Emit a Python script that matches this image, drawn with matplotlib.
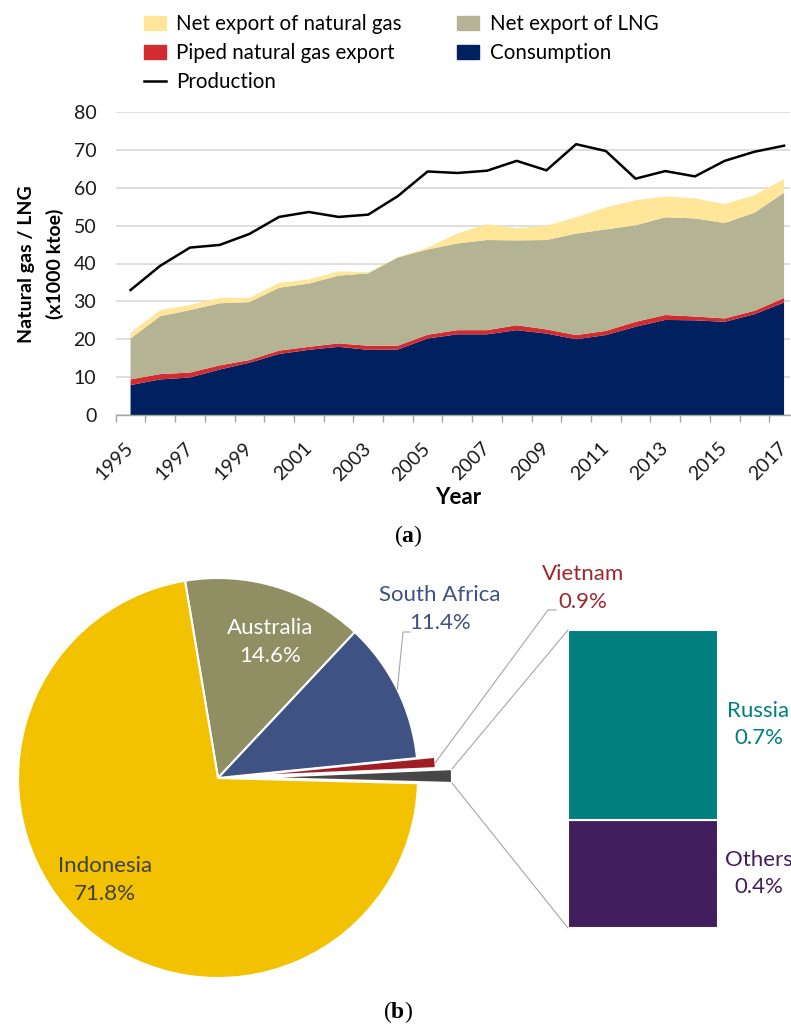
import matplotlib
matplotlib.use("Agg")
import matplotlib.pyplot as plt
import numpy as np
from matplotlib.patches import Patch, ConnectionPatch
from matplotlib.lines import Line2D

plt.rcParams['font.family'] = ['Lato', 'DejaVu Sans']
plt.rcParams['mathtext.fontset'] = 'custom'
plt.rcParams['mathtext.bf'] = 'Liberation Serif:bold'
plt.rcParams['mathtext.rm'] = 'Liberation Serif'

# ---------------- data (a) ----------------
years = list(range(1995, 2018))
consumption = [7.9, 9.4, 9.9, 12.0, 13.8, 16.1, 17.2, 18.0, 17.2, 17.3, 20.2, 21.3,
               21.3, 22.4, 21.5, 20.0, 21.1, 23.3, 25.1, 25.0, 24.6, 26.6, 29.7]
piped_export = [1.5, 1.4, 1.3, 1.1, 0.7, 0.9, 0.8, 0.9, 1.1, 1.0, 1.0, 1.1,
                1.1, 1.3, 1.1, 1.1, 1.1, 1.3, 1.3, 1.0, 0.9, 0.9, 1.2]
lng_export = [10.8, 15.3, 16.5, 16.4, 15.3, 16.6, 16.7, 17.9, 19.1, 23.3, 22.5, 22.9,
              23.8, 22.4, 23.6, 26.8, 26.8, 25.5, 25.8, 25.9, 25.2, 25.9, 27.8]
gas_export = [1.5, 1.6, 1.3, 1.4, 1.1, 1.3, 1.1, 1.1, 0.3, 0.1, 0.5, 2.6,
              4.2, 3.2, 3.8, 4.3, 5.8, 6.6, 5.5, 5.3, 5.0, 4.6, 3.6]
production = [33.0, 39.4, 44.2, 44.9, 47.8, 52.3, 53.6, 52.3, 52.9, 57.8, 64.3, 63.9,
              64.5, 67.1, 64.6, 71.5, 69.7, 62.4, 64.4, 63.0, 67.1, 69.5, 71.1]
y_ticks = [0, 10, 20, 30, 40, 50, 60, 70, 80]

# ---------------- data (b) ----------------
pie_labels = ['Australia', 'South Africa', 'Vietnam', 'Other', 'Indonesia']
pie_values = [14.6, 11.4, 0.9, 1.1, 71.8]
bar_labels = ['Others', 'Russia']
bar_values = [0.4, 0.7]

C_NAVY = '#002060'
C_RED = '#D22B30'
C_KHAKI = '#B4B494'
C_YELLOW = '#FFE699'

W, H = 791, 1025
fig = plt.figure(figsize=(W / 100, H / 100), dpi=100)

def fx(px):
    return px / W

def fy(py):
    return 1 - py / H

# ---------------- panel (a) ----------------
ax1 = fig.add_axes([fx(115.7), fy(415), fx(790) - fx(115.7), fy(112) - fy(415)])
x = np.arange(len(years))
ax1.stackplot(x, consumption, piped_export, lng_export, gas_export,
              colors=[C_NAVY, C_RED, C_KHAKI, C_YELLOW], linewidth=0)
ax1.plot(x, production, color='black', lw=1.8)
ax1.set_ylim(0, 80)
ax1.set_xlim(-0.5, 22.2)
ax1.set_yticks(y_ticks)
ax1.yaxis.grid(True, color='#D9D9D9', lw=1.2)
ax1.set_axisbelow(True)
for s in ['left', 'top', 'right']:
    ax1.spines[s].set_visible(False)
ax1.spines['bottom'].set_color('#A6A6A6')
ax1.spines['bottom'].set_linewidth(1.0)
ax1.tick_params(axis='y', length=0, pad=14, labelsize=14, labelcolor='#1a1a1a')
ax1.set_xticks(np.arange(-0.5, 22.5, 1))
ax1.set_xticklabels([])
ax1.tick_params(axis='x', which='major', length=5, color='#A6A6A6', width=1.0)
ax1.set_xticks(x[::2], [str(y) for y in years[::2]], minor=True)
ax1.tick_params(axis='x', which='minor', length=0, pad=22, labelsize=14,
                labelcolor='#1a1a1a')
for lbl in ax1.get_xticklabels(minor=True):
    lbl.set_rotation(45)
    lbl.set_ha('right')
    lbl.set_va('center')
    lbl.set_rotation_mode('anchor')

fig.text(fx(41), fy(264), 'Natural gas / LNG\n(x1000 ktoe)', rotation=90,
         ha='center', va='center', fontsize=14, fontweight='bold', linespacing=1.75)
fig.text(fx(458), fy(497), 'Year', ha='center', va='center', fontsize=16,
         fontweight='bold')
fig.text(fx(408), fy(536), r'($\mathbf{a}$)', ha='center', va='center',
         fontsize=17, family='Liberation Serif')

handles = [Patch(color=C_YELLOW), Patch(color=C_RED),
           Line2D([], [], color='black', lw=1.8),
           Patch(color=C_KHAKI), Patch(color=C_NAVY)]
labels = ['Net export of natural gas', 'Piped natural gas export', 'Production',
          'Net export of LNG', 'Consumption']
fig.legend(handles, labels, loc='upper left', bbox_to_anchor=(fx(144), fy(14)),
           ncol=2, frameon=False, fontsize=14.8, handlelength=1.07,
           handleheight=0.7, handletextpad=0.5, columnspacing=2.7,
           labelspacing=0.44, borderaxespad=0, borderpad=0)

# ---------------- panel (b) ----------------
cx_px, cy_px, r_px = 218, 778, 200
ax2 = fig.add_axes([0, 0, 1, fy(540)])
pie_colors = ['#8F8F63', '#3E5283', '#A01D24', '#474747', '#F2C200']
explode = [0, 0, 0.09, 0.17, 0]
wedges, _ = ax2.pie(pie_values, colors=pie_colors, startangle=99.5,
                    counterclock=False, explode=explode, radius=1,
                    wedgeprops=dict(edgecolor='white', linewidth=1.5))
ax2.set_xlim(-cx_px / r_px, (W - cx_px) / r_px)
ax2.set_ylim((cy_px - H) / r_px, (cy_px - 540) / r_px)
ax2.set_aspect('auto')
ax2.axis('off')

lab_fs = 16
ls = 1.45
ax2.text(0.26, 0.68, 'Australia\n14.6%', color='white', ha='center', va='center',
         fontsize=lab_fs, linespacing=ls)
ax2.text(-0.565, -0.51, 'Indonesia\n71.8%', color='#404040', ha='center',
         va='center', fontsize=lab_fs, linespacing=ls)
ax2.text(1.11, 0.845, 'South Africa\n11.4%', color='#3E5283', ha='center',
         va='center', fontsize=lab_fs, linespacing=ls)
ax2.text(1.825, 0.95, 'Vietnam\n0.9%', color='#A0262D', ha='center',
         va='center', fontsize=lab_fs, linespacing=ls)

def outer_mid(w):
    th = np.deg2rad(0.5 * (w.theta1 + w.theta2))
    return (w.center[0] + w.r * np.cos(th), w.center[1] + w.r * np.sin(th))

sa = outer_mid(wedges[1])
ax2.plot([sa[0], 0.925, 0.96], [sa[1], 0.73, 0.73], color='#A6A6A6', lw=0.8)
vn = outer_mid(wedges[2])
ax2.plot([vn[0], 1.65, 1.69], [vn[1], 0.84, 0.84], color='#A6A6A6', lw=0.8)

# bar of pie
ax3 = fig.add_axes([fx(568), fy(928), fx(718) - fx(568), fy(630) - fy(928)])
bar_colors = ['#431E5E', '#007F7F']
bottom = 0
for lab, v, c in zip(bar_labels, bar_values, bar_colors):
    ax3.bar(0, v, bottom=bottom, width=1, color=c, edgecolor='white', lw=1.5)
    ax3.text(0.77, bottom + v / 2, f'{lab}\n{v:.1f}%', color=c, ha='center',
             va='center', fontsize=lab_fs, linespacing=ls, clip_on=False)
    bottom += v
ax3.set_xlim(-0.5, 0.5)
ax3.set_ylim(0, sum(bar_values))
ax3.axis('off')

ow = wedges[3]
for th, yfrac in [(ow.theta2, 1), (ow.theta1, 0)]:
    t = np.deg2rad(th)
    p = (ow.center[0] + ow.r * np.cos(t), ow.center[1] + ow.r * np.sin(t))
    cp = ConnectionPatch(xyA=p, coordsA=ax2.transData, xyB=(0, yfrac),
                         coordsB=ax3.transAxes, color='#A6A6A6', lw=0.8)
    fig.add_artist(cp)

fig.text(fx(398), fy(1012), r'($\mathbf{b}$)', ha='center', va='center',
         fontsize=17, family='Liberation Serif')

fig.savefig('out.png', dpi=100)
